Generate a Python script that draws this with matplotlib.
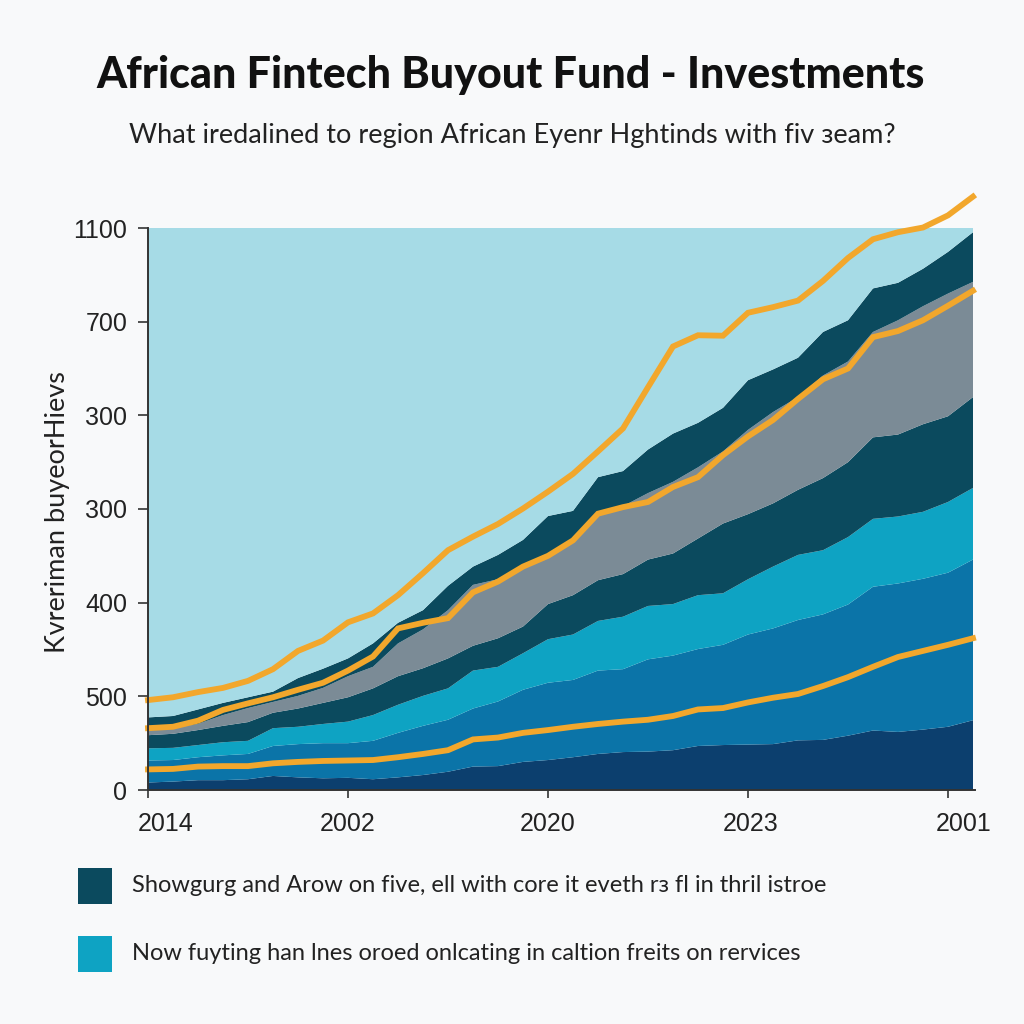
import numpy as np
import matplotlib
matplotlib.use("Agg")
import matplotlib.pyplot as plt
from matplotlib.patches import Rectangle
from matplotlib.transforms import ScaledTranslation

# ---------------- data ----------------
x = list(range(34))

# cumulative boundaries of the stacked areas (top edge of each band)
navy_top = [16, 18, 21, 21, 23, 30, 27, 25, 26, 23, 27, 32, 39, 50, 51, 60, 64, 70, 77, 81, 82,
            85, 94, 96, 97, 98, 106, 107, 116, 127, 124, 129, 135, 149]
blue_top = [63, 64, 70, 74, 77, 94, 98, 100, 100, 105, 122, 137, 150, 174, 189, 214, 229, 235, 255,
            258, 279, 287, 301, 310, 332, 345, 363, 375, 396, 434, 441, 451, 464, 492]
cyan_top = [89, 90, 96, 102, 105, 132, 135, 141, 146, 160, 182, 201, 217, 255, 263, 292, 322, 332,
            361, 370, 393, 397, 416, 420, 450, 477, 502, 512, 540, 579, 584, 594, 615, 645]
teal_top = [117, 120, 128, 137, 145, 165, 174, 186, 198, 217, 243, 260, 281, 308, 324, 349, 397, 416,
            448, 461, 492, 505, 537, 569, 589, 612, 641, 666, 700, 753, 759, 781, 798, 839]
grey_top = [130, 132, 141, 160, 175, 188, 201, 218, 243, 263, 313, 343, 384, 438, 450, 480, 505, 537,
            587, 606, 634, 658, 689, 723, 769, 807, 839, 885, 915, 978, 1003, 1033, 1060, 1085]
teal2_top = [155, 158, 172, 186, 198, 210, 239, 259, 281, 313, 357, 384, 436, 477, 502, 534, 585, 596,
             668, 681, 727, 761, 784, 816, 875, 898, 923, 978, 1003, 1071, 1083, 1113, 1149, 1191]
area_ceiling = 1200

# orange lines
line_low = [44, 45, 50, 51, 51, 57, 60, 62, 63, 64, 70, 77, 85, 108, 112, 122, 128, 135, 141, 146,
            150, 158, 172, 175, 187, 197, 205, 222, 241, 263, 284, 297, 310, 324]
line_mid = [132, 135, 148, 171, 185, 198, 214, 229, 255, 285, 345, 357, 367, 422, 445, 477, 500, 533,
            590, 604, 615, 647, 668, 715, 755, 790, 835, 877, 900, 967, 980, 1003, 1034, 1066]
line_top = [192, 198, 209, 218, 233, 258, 297, 319, 358, 377, 416, 463, 512, 541, 568, 601, 637, 675,
            723, 772, 860, 947, 971, 970, 1019, 1031, 1045, 1087, 1136, 1176, 1191, 1201, 1227, 1267]

x_ticks = [0, 8, 16, 24, 32]
x_labels = ["2014", "2002", "2020", "2023", "2001"]
y_ticks = [0, 200, 400, 600, 800, 1000, 1200]
y_labels = ["0", "500", "400", "300", "300", "700", "1100"]

title = "African Fintech Buyout Fund - Investments"
subtitle = "What iredalined to region African Eyenr Hghtinds with fiv \u025ceam?"
ylabel = "\u0198vreriman buyeorHievs"
legend_labels = ["Showgurg and Arow on five, ell with core it eveth r\u0437 fl in thril istroe",
                 "Now fuyting han lnes oroed onlcating in caltion freits on rervices"]

# ---------------- style ----------------
bg = "#f8f9fa"
c_navy = "#0c3f6e"
c_blue = "#0b74a8"
c_cyan = "#0ea3c3"
c_teal = "#0b4a5e"
c_grey = "#7b8b96"
c_light = "#a6dbe6"
c_orange = "#f2a72c"

plt.rcParams["font.family"] = ["Lato", "DejaVu Sans"]

fig = plt.figure(figsize=(10.24, 10.24), dpi=100, facecolor=bg)
ax = fig.add_axes([148 / 1024, 1 - 790 / 1024, (975 - 148) / 1024, (790 - 228) / 1024])
ax.set_facecolor(bg)

bounds = [np.zeros(len(x)), navy_top, blue_top, cyan_top, teal_top, grey_top, teal2_top,
          np.full(len(x), area_ceiling)]
bounds = [np.asarray(b, dtype=float) for b in bounds]
layers = [bounds[k + 1] - bounds[k] for k in range(len(bounds) - 1)]
ax.stackplot(x, *layers, colors=[c_navy, c_blue, c_cyan, c_teal, c_grey, c_teal, c_light],
             linewidth=0, zorder=1)

for series in (line_low, line_mid, line_top):
    ax.plot(x, series, color=c_orange, lw=4.2, solid_joinstyle="miter", zorder=3, clip_on=False)

ax.set_xlim(0, 33.08)
ax.set_ylim(0, 1200)
ax.set_xticks(x_ticks)
ax.set_xticklabels(x_labels, fontsize=18, family=["Liberation Sans", "DejaVu Sans"], color="#222")
ax.set_yticks(y_ticks)
ax.set_yticklabels(y_labels, fontsize=18, family=["Liberation Sans", "DejaVu Sans"], color="#222")
ax.tick_params(axis="y", length=7, width=1.2, color="#333", pad=8)
ax.tick_params(axis="x", length=6, width=1.2, color="#333", pad=10)
# small horizontal nudges of the first and last year labels, as in the reference
xl = ax.get_xticklabels()
for lab, dx in zip(xl, [0.18, 0.0, 0.0, 0.03, 0.16]):
    lab.set_transform(lab.get_transform() + ScaledTranslation(dx, 0, fig.dpi_scale_trans))
for s in ("top", "right"):
    ax.spines[s].set_visible(False)
for s in ("left", "bottom"):
    ax.spines[s].set_color("#333")
    ax.spines[s].set_linewidth(1.4)
    ax.spines[s].set_zorder(4)

fig.text(58 / 1024, 1 - 512 / 1024, ylabel, rotation=90, ha="center", va="center",
         fontsize=19.5, color="#222", family=["Lato", "DejaVu Sans"])

fig.text(511 / 1024, 1 - 75 / 1024, title, ha="center", va="center", fontsize=31,
         fontweight="black", color="#111")
fig.text(512 / 1024, 1 - 135 / 1024, subtitle, ha="center", va="center", fontsize=19.5,
         color="#222", family=["Lato", "DejaVu Sans"])

# legend
for k, (lab, col) in enumerate(zip(legend_labels, [c_teal, c_cyan])):
    yc = [886, 954][k]
    fig.add_artist(Rectangle((78 / 1024, 1 - (yc + 18) / 1024), 34 / 1024, 36 / 1024,
                             transform=fig.transFigure, facecolor=col, edgecolor="none"))
    fig.text(132 / 1024, 1 - yc / 1024, lab, ha="left", va="center", fontsize=17,
             color="#222", family=["Lato", "DejaVu Sans"])

fig.savefig("out.png", dpi=100, facecolor=bg)
